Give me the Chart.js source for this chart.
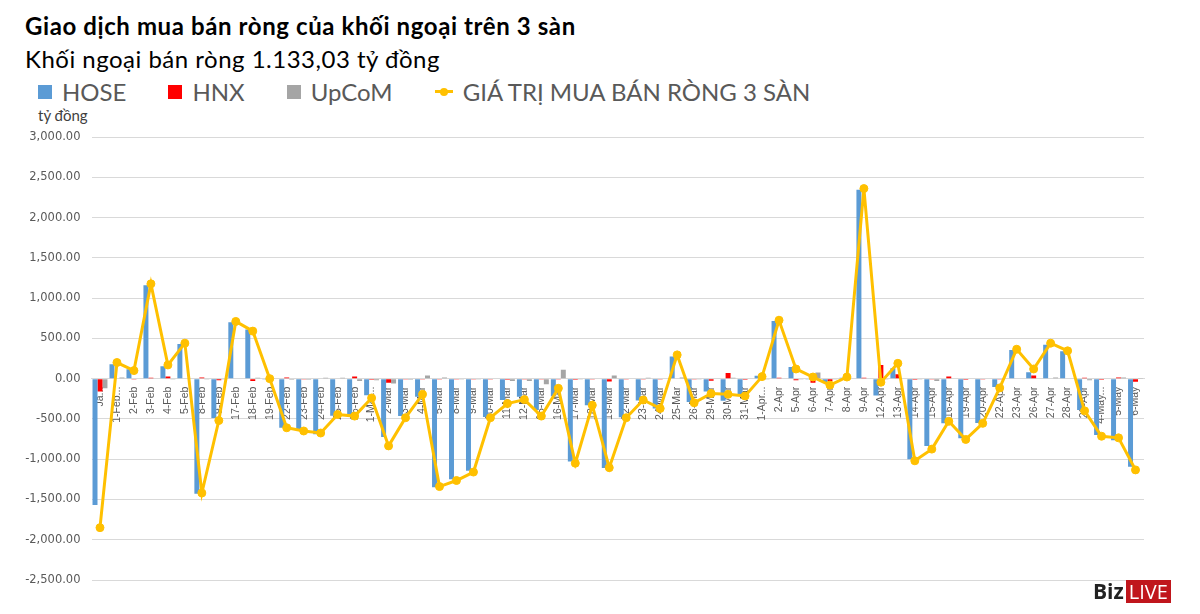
<!DOCTYPE html>
<html lang="vi">
<head>
<meta charset="utf-8">
<title>Giao dịch mua bán ròng của khối ngoại trên 3 sàn</title>
<script src="https://cdn.jsdelivr.net/npm/chart.js@4.4.1/dist/chart.umd.min.js"></script>
<style>
    html, body { margin: 0; padding: 0; background: #fff; }
    body { width: 1200px; height: 614px; position: relative; overflow: hidden; font-family: Lato, 'Noto Sans', sans-serif; }
    #chart-wrap { position: absolute; left: 0; top: 0; width: 1200px; height: 614px; }
    .title { position: absolute; left: 25px; top: 11px; font-size: 24px; font-weight: 700; letter-spacing: 0.6px; color: #000; white-space: nowrap; }
    .subtitle { position: absolute; left: 25px; top: 44px; font-size: 24px; letter-spacing: 0.5px; color: #000; white-space: nowrap; }
    #legend { position: absolute; left: 38px; top: 77px; display: flex; align-items: center; font-size: 24px; color: #595959; white-space: nowrap; }
    .legend-item { display: flex; align-items: center; margin-right: 42px; }
    .legend-box { width: 14px; height: 14px; margin-right: 10px; }
    .legend-line { position: relative; width: 18px; height: 3px; margin-right: 10px; }
    .legend-line::after { content: ''; position: absolute; left: 5px; top: -2.5px; width: 8px; height: 8px; border-radius: 50%; background: inherit; }
    .unit { position: absolute; left: 38px; top: 106px; font-size: 15px; color: #404040; }
    .brand { position: absolute; left: 1093px; top: 577px; display: flex; align-items: center; font-family: 'Open Sans', sans-serif; font-size: 21px; }
    .brand b { color: #222; margin-right: 2px; }
    .brand span { background: #c0161c; color: #fff; padding: 0 3px; line-height: 23px; font-size: 20px; }
</style>
</head>
<body>
<div class="title">Giao dịch mua bán ròng của khối ngoại trên 3 sàn</div>
<div class="subtitle">Khối ngoại bán ròng 1.133,03 tỷ đồng</div>
<div id="legend"></div>
<div class="unit">tỷ đồng</div>
<div id="chart-wrap"><canvas id="flow-chart"></canvas></div>
<div class="brand"><b>Biz</b><span>LIVE</span></div>

<script>
// phiên giao dịch (nhãn trục X như trong ảnh gốc)
const sessions = [
    'Ja...', '1-Feb...', '2-Feb', '3-Feb', '4-Feb', '5-Feb', '8-Feb', '9-Feb', '17-Feb', '18-Feb',
    '19-Feb', '22-Feb', '23-Feb', '24-Feb', '25-Feb', '26-Feb', '1-Mar...', '2-Mar', '3-Mar', '4-Mar',
    '5-Mar', '8-Mar', '9-Mar', '10-Mar', '11-Mar', '12-Mar', '15-Mar', '16-Mar', '17-Mar', '18-Mar',
    '19-Mar', '22-Mar', '23-Mar', '24-Mar', '25-Mar', '26-Mar', '29-Mar', '30-Mar', '31-Mar', '1-Apr...',
    '2-Apr', '5-Apr', '6-Apr', '7-Apr', '8-Apr', '9-Apr', '12-Apr', '13-Apr', '14-Apr', '15-Apr',
    '16-Apr', '19-Apr', '20-Apr', '22-Apr', '23-Apr', '26-Apr', '27-Apr', '28-Apr', '29-Apr', '4-May...',
    '5-May', '6-May'
];

// tỷ đồng
const hose = [
    -1570, 180, 118, 1160, 155, 430, -1430, -490, 700, 610,
    -5, -610, -630, -690, -460, -460, -205, -725, -465, -225,
    -1350, -1250, -1145, -475, -265, -225, -390, -220, -1030, -330,
    -1110, -480, -270, -370, 275, -290, -160, -275, -200, 35,
    715, 145, -5, -45, 10, 2345, -210, 130, -1000, -835,
    -555, -740, -550, -105, 355, 80, 420, 340, -390, -700,
    -765, -1095
];
const hnx = [
    -160, 5, -10, 12, 25, 5, 15, -20, 5, -30,
    0, 15, -5, 5, 5, 25, -15, -50, -5, -10,
    -5, -10, -10, -10, -15, -5, -5, -10, -15, -5,
    -35, -5, -5, -5, 5, -5, -25, 70, -15, -5,
    10, -20, -50, -30, 5, 10, 170, 55, -15, -10,
    25, -15, -5, -10, 5, 40, 5, 5, 10, -15,
    15, -40
];
const upcom = [
    -120, 15, -8, 5, -10, 5, -5, -10, 5, 10,
    5, -15, -15, 10, 10, -30, -20, -60, -15, 40,
    15, -5, -5, 0, -30, -30, -70, 110, -5, 5,
    40, 0, 10, 5, 15, -5, 0, 10, 0, -5,
    0, -5, 75, -5, 5, 5, -5, 5, -5, -30,
    0, 0, 0, 0, 5, 0, 15, 0, -20, 0,
    15, 2
];
const netTotal = [
    -1850, 200, 100, 1177, 170, 440, -1420, -520, 710, 590,
    0, -610, -650, -675, -445, -465, -240, -835, -485, -195,
    -1340, -1265, -1160, -485, -310, -260, -465, -120, -1050, -330,
    -1105, -485, -265, -370, 295, -300, -185, -195, -215, 25,
    725, 120, 20, -80, 20, 2360, -45, 190, -1020, -875,
    -530, -755, -555, -115, 365, 120, 440, 345, -400, -715,
    -735, -1133.03
];

// trục Y
const yTicks = [-2500, -2000, -1500, -1000, -500, 0, 500, 1000, 1500, 2000, 2500, 3000];

const COLORS = {
    hose: '#5b9bd5',
    hnx: '#ff0000',
    upcom: '#a5a5a5',
    net: '#ffc000',
    grid: '#d9d9d9',
    text: '#595959'
};

const fmt = v => v.toLocaleString('en-US', { minimumFractionDigits: 2, maximumFractionDigits: 2 });

const ctx = document.getElementById('flow-chart');
const flowChart = new Chart(ctx, {
    type: 'bar',
    data: {
        labels: sessions,
        datasets: [
            {
                type: 'line',
                label: 'GIÁ TRỊ MUA BÁN RÒNG 3 SÀN',
                data: netTotal,
                borderColor: COLORS.net,
                backgroundColor: COLORS.net,
                borderWidth: 3,
                tension: 0,
                pointRadius: 4,
                pointBorderWidth: 1,
                pointBackgroundColor: COLORS.net,
                pointBorderColor: COLORS.net,
                order: 0
            },
            { label: 'HOSE', data: hose, backgroundColor: COLORS.hose, order: 1 },
            { label: 'HNX', data: hnx, backgroundColor: COLORS.hnx, order: 1 },
            { label: 'UpCoM', data: upcom, backgroundColor: COLORS.upcom, order: 1 }
        ]
    },
    options: {
        responsive: true,
        maintainAspectRatio: false,
        animation: false,
        datasets: {
            bar: { categoryPercentage: 0.88, barPercentage: 1.0 }
        },
        layout: { padding: { top: 137, bottom: 34, left: 0, right: 56 } },
        plugins: {
            legend: { display: false },
            tooltip: { enabled: false }
        },
        scales: {
            x: {
                position: { y: 0 },
                grid: { display: false, drawTicks: false },
                border: { color: COLORS.grid, width: 1 },
                ticks: {
                    autoSkip: false,
                    minRotation: 90,
                    maxRotation: 90,
                    padding: 8,
                    color: COLORS.text,
                    font: { family: "'Liberation Sans Narrow', 'Liberation Sans', sans-serif", size: 10.5 }
                }
            },
            y: {
                min: yTicks[0],
                max: yTicks[yTicks.length - 1],
                afterBuildTicks: scale => { scale.ticks = yTicks.map(v => ({ value: v })); },
                afterFit: scale => { scale.width = 91.5; },
                grid: { color: COLORS.grid, lineWidth: 1, drawTicks: false },
                border: { display: false },
                ticks: {
                    padding: 11,
                    color: COLORS.text,
                    font: { family: "'DejaVu Sans', sans-serif", size: 11.5 },
                    callback: v => fmt(v)
                }
            }
        }
    }
});

// chú thích dạng HTML theo thứ tự của ảnh gốc
const legendOrder = [1, 2, 3, 0];
document.getElementById('legend').innerHTML = legendOrder.map(i => {
    const ds = flowChart.data.datasets[i];
    const marker = ds.type === 'line'
        ? `<span class="legend-line" style="background:${ds.borderColor}"></span>`
        : `<span class="legend-box" style="background:${ds.backgroundColor}"></span>`;
    return `<div class="legend-item">${marker}<span>${ds.label}</span></div>`;
}).join('');
</script>
</body>
</html>
